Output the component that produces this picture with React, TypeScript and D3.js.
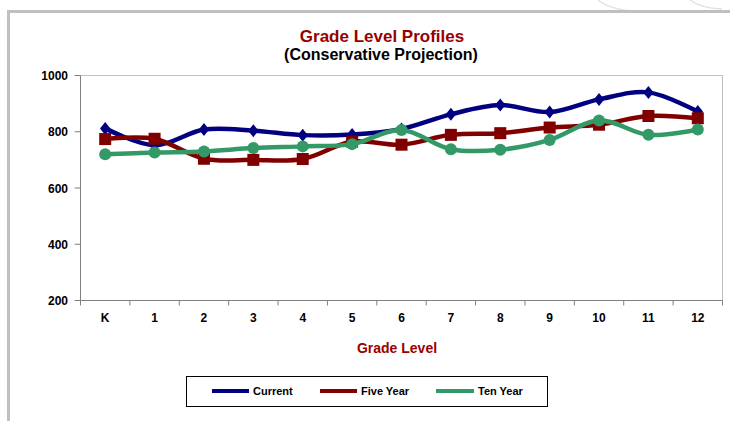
import React from "react";
import * as d3 from "d3";

const grades = ["K", "1", "2", "3", "4", "5", "6", "7", "8", "9", "10", "11", "12"];
const currentValues = [812, 752, 808, 804, 788, 790, 810, 862, 895, 870, 915, 940, 872];
const fiveYearValues = [774, 775, 704, 700, 703, 765, 754, 789, 795, 815, 825, 856, 848];
const tenYearValues = [720, 726, 730, 742, 748, 756, 806, 738, 736, 771, 840, 789, 808];
const yTicks = [200, 400, 600, 800, 1000];
const seriesNames = ["Current", "Five Year", "Ten Year"];

const W = 730;
const H = 421;
const plot = { left: 80.5, right: 722.5, top: 75.5, bottom: 300.5 };
const FONT = "'Liberation Sans', Arial, sans-serif";

export default function App() {
  const x = d3.scaleBand<string>().domain(grades).range([plot.left, plot.right]).padding(0);
  const y = d3.scaleLinear().domain([200, 1000]).range([plot.bottom, plot.top]);
  const cx = (g: string) => (x(g) as number) + x.bandwidth() / 2;

  const line = d3
    .line<number>()
    .x((_, i) => cx(grades[i]))
    .y((d) => y(d))
    .curve(d3.curveCatmullRom.alpha(0));

  const series = [
    { name: seriesNames[0], values: currentValues, color: "#000080", marker: "diamond" },
    { name: seriesNames[1], values: fiveYearValues, color: "#800000", marker: "square" },
    { name: seriesNames[2], values: tenYearValues, color: "#339966", marker: "circle" },
  ];

  const boundaries = d3.range(grades.length + 1).map((i) => plot.left + i * x.bandwidth());

  const marker = (type: string, px: number, py: number, color: string, key: string) => {
    if (type === "diamond") {
      const s = 6.5;
      return (
        <path
          key={key}
          d={`M${px},${py - s}L${px + s * 0.8},${py}L${px},${py + s}L${px - s * 0.8},${py}Z`}
          fill={color}
        />
      );
    }
    if (type === "square") {
      const s = 6;
      return <rect key={key} x={px - s} y={py - s} width={2 * s} height={2 * s} fill={color} />;
    }
    return <circle key={key} cx={px} cy={py} r={6} fill={color} />;
  };

  const legendItems = [
    { x1: 212, x2: 249, tx: 253 },
    { x1: 320, x2: 357, tx: 361 },
    { x1: 436, x2: 474, tx: 478 },
  ];

  return (
    <svg width={W} height={H} style={{ position: "absolute", left: 0, top: 0 }} fontFamily={FONT}>
      <rect x={0} y={0} width={W} height={H} fill="#ffffff" />
      {/* faint background arcs */}
      <path d="M598,0 Q610,10 640,12" fill="none" stroke="#dde3ec" strokeWidth={1.5} />
      <path d="M690,0 Q700,8 722,9" fill="none" stroke="#dde3ec" strokeWidth={1.5} />
      {/* outer frame */}
      <rect x={8.5} y={11.5} width={W + 10} height={H + 10} fill="#ffffff" stroke="#c0c0c0" strokeWidth={3} />

      {/* title */}
      <text x={382} y={42} textAnchor="middle" fontSize={17} fontWeight="bold" fill="#990000">
        Grade Level Profiles
      </text>
      <text x={381} y={60} textAnchor="middle" fontSize={16} fontWeight="bold" fill="#000000">
        (Conservative Projection)
      </text>

      {/* plot area border */}
      <rect
        x={plot.left}
        y={plot.top}
        width={plot.right - plot.left}
        height={plot.bottom - plot.top}
        fill="#ffffff"
        stroke="#c0c0c0"
        strokeWidth={1}
      />
      {/* axes */}
      <line x1={plot.left} x2={plot.left} y1={plot.top} y2={plot.bottom} stroke="#808080" />
      <line x1={plot.left} x2={plot.right} y1={plot.bottom} y2={plot.bottom} stroke="#808080" />
      {yTicks.map((t) => (
        <g key={t}>
          <line x1={plot.left - 6} x2={plot.left} y1={y(t)} y2={y(t)} stroke="#808080" />
          <text x={68} y={y(t) + 4.5} textAnchor="end" fontSize={12} fontWeight="bold" fill="#000">
            {t}
          </text>
        </g>
      ))}
      {boundaries.map((b, i) => (
        <line key={i} x1={b} x2={b} y1={plot.bottom} y2={plot.bottom + 5} stroke="#808080" />
      ))}
      {grades.map((g) => (
        <text key={g} x={cx(g)} y={322} textAnchor="middle" fontSize={12} fontWeight="bold" fill="#000">
          {g}
        </text>
      ))}
      <text x={397} y={353} textAnchor="middle" fontSize={14} fontWeight="bold" fill="#990000">
        Grade Level
      </text>

      {/* series */}
      {series.map((s) => (
        <g key={s.name}>
          <path d={line(s.values) as string} fill="none" stroke={s.color} strokeWidth={4.5} />
          {s.values.map((v, i) => marker(s.marker, cx(grades[i]), y(v), s.color, `${s.name}-${i}`))}
        </g>
      ))}

      {/* legend */}
      <rect x={186.5} y={376.5} width={361} height={30} fill="#ffffff" stroke="#000000" strokeWidth={1} />
      {series.map((s, i) => (
        <g key={s.name}>
          <line
            x1={legendItems[i].x1}
            x2={legendItems[i].x2}
            y1={391}
            y2={391}
            stroke={s.color}
            strokeWidth={4}
          />
          <text x={legendItems[i].tx} y={395} fontSize={11} fontWeight="bold" fill="#000">
            {s.name}
          </text>
        </g>
      ))}
    </svg>
  );
}
